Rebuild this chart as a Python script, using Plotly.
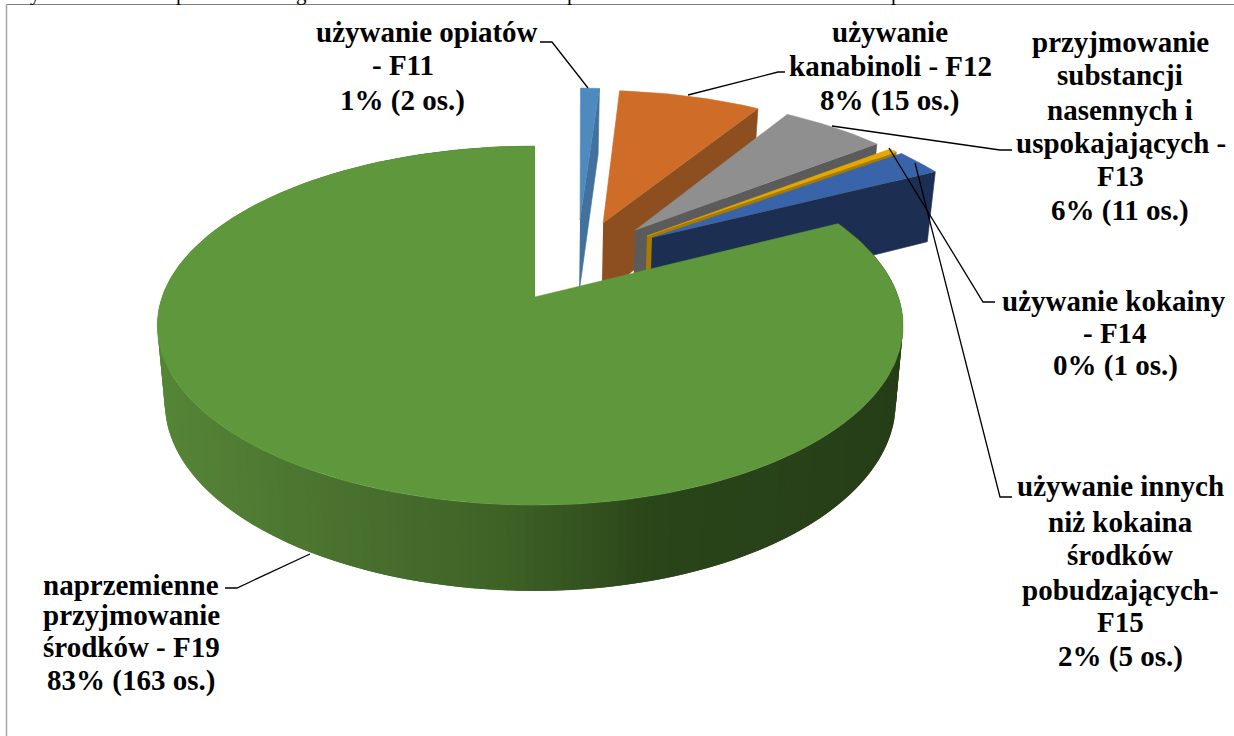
import numpy as np
import plotly.graph_objects as go

# data
categories = ["F11", "F12", "F13", "F14", "F15", "F19"]
persons = [2, 15, 11, 1, 5, 163]
top_colors = ["#4f8abf", "#cf6d28", "#8f8f8f", "#e5a800", "#3a64aa", "#5f983c"]
wall_colors = ["#41719c", "#8d4f1f", "#5b5b5b", "#a67c00", "#1c2f52", "#2a4519"]

# how far each slice is exploded on the pie plane (right, towards viewer)
pull_u = [0.132, 0.199, 0.29, 0.323, 0.337, 0.0]
pull_v = [-0.474, -0.453, -0.405, -0.369, -0.358, 0.0]
FIRST_ANGLE = np.radians(1.2)

# text lines of the data labels
label_lines = [
    "używanie opiatów", "- F11", "1% (2 os.)",
    "używanie", "kanabinoli - F12", "8% (15 os.)",
    "przyjmowanie", "substancji", "nasennych i", "uspokajających -", "F13", "6% (11 os.)",
    "używanie kokainy", "- F14", "0% (1 os.)",
    "używanie innych", "niż kokaina", "środków", "pobudzających-", "F15", "2% (5 os.)",
    "naprzemienne", "przyjmowanie", "środków - F19", "83% (163 os.)",
]
label_x = [427, 403, 402, 890, 890, 889, 1120, 1120, 1120, 1121, 1120, 1120,
           1114, 1115, 1115, 1120, 1120, 1120, 1120, 1120, 1120, 131, 131, 131, 131]
label_y = [32, 65, 100, 32, 66, 100, 42, 75, 110, 143, 176, 210,
           301, 333, 365, 486, 522, 555, 590, 622, 656, 585, 615, 647, 680]

# leader lines, one per label
leaders = [
    ([540, 552, 588], [42, 42, 88]),
    ([785, 778, 688], [72, 72, 95]),
    ([1012, 1000, 832], [150, 150, 126]),
    ([995, 983, 889], [302, 302, 148]),
    ([1012, 1000, 915], [497, 497, 163]),
    ([225, 237, 310], [588, 588, 554]),
]

# clipped line of the document text above the chart, only tails show
clipped_chars = ["y", "p", "g", "p", "p"]
clipped_x = [35, 181, 301, 572, 896]

# projection of the tilted pie
CX, CY = 535, 297
A, B, K = 367, 175, 0.159
DEPTH = 76


def project(u, v, squeeze=False):
    s = 1 / (1 - K * v)
    if squeeze:
        u = np.where(u < 0, u * 1.016, u * 0.99)
    return CX + A * u * s, CY + B * v * s, s


def lower(x, y, s):
    return CX + (x - CX) * 0.98, y + DEPTH * s ** 0.7


def add_poly(fig, x, y, color, width=0.6):
    fig.add_trace(go.Scatter(x=x, y=y, mode="lines", fill="toself", fillcolor=color,
                             line=dict(color=color, width=width), hoverinfo="skip"))


# wall shading of the large slice, dark towards the right
shade_x = [160, 330, 500, 650, 900]
shade_rgb = [(85, 133, 55), (74, 114, 47), (62, 98, 38), (42, 69, 25), (38, 62, 24)]


def shade(x):
    r, g, b = [np.interp(x, shade_x, [c[i] for c in shade_rgb]) for i in range(3)]
    return f"rgb({r:.0f},{g:.0f},{b:.0f})"


fig = go.Figure()

total = sum(persons)
edges = np.cumsum([0] + persons) / total * 2 * np.pi + FIRST_ANGLE
edges[-1] = 2 * np.pi

for i, cat in enumerate(categories):
    big = cat == "F19"
    t = np.linspace(edges[i], edges[i + 1], 240 if big else 24)
    u = np.concatenate([[0], np.sin(t)]) + pull_u[i]
    v = np.concatenate([[0], -np.cos(t)]) + pull_v[i]
    x, y, s = project(u, v, squeeze=big)
    xl, yl = lower(x, y, s)

    if big:
        # outer rim in small overlapping strips so that it can carry the gradient
        for j in range(1, len(x) - 2):
            add_poly(fig, [x[j], x[j + 2], xl[j + 2], xl[j]],
                     [y[j], y[j + 2], yl[j + 2], yl[j]], shade(x[j + 1]), width=0)
    else:
        # cut face on the clockwise side of the slice
        add_poly(fig, [x[0], x[-1], xl[-1], xl[0]], [y[0], y[-1], yl[-1], yl[0]], wall_colors[i])
    add_poly(fig, x, y, top_colors[i])

for lx, ly in leaders:
    fig.add_trace(go.Scatter(x=lx, y=ly, mode="lines", line=dict(color="black", width=1.3),
                             hoverinfo="skip"))

for text, x, y in zip(label_lines, label_x, label_y):
    fig.add_annotation(x=x, y=y, text=f"<b>{text}</b>", showarrow=False, xanchor="center",
                       yanchor="middle",
                       font=dict(family="Liberation Serif", size=29, color="black"))

for ch, x in zip(clipped_chars, clipped_x):
    fig.add_annotation(x=x, y=0, yshift=7, text=ch, showarrow=False, xanchor="center",
                       yanchor="middle",
                       font=dict(family="Liberation Serif", size=21, color="black"))

# chart frame, runs off the page on the right and at the bottom
fig.add_shape(type="line", x0=6, x1=1234, y0=4.5, y1=4.5, line=dict(color="#808080", width=1))
fig.add_shape(type="line", x0=6.5, x1=6.5, y0=4, y1=736, line=dict(color="#a6a6a6", width=1.5))

fig.update_layout(
    width=1234, height=736, margin=dict(l=0, r=0, t=0, b=0),
    paper_bgcolor="white", plot_bgcolor="white", showlegend=False,
    xaxis=dict(range=[0, 1234], visible=False, fixedrange=True),
    yaxis=dict(range=[736, 0], visible=False, fixedrange=True),
)

fig.write_html("out.html", config=dict(displayModeBar=False),
               post_script="document.body.style.margin='0';document.body.style.overflow='hidden';")
